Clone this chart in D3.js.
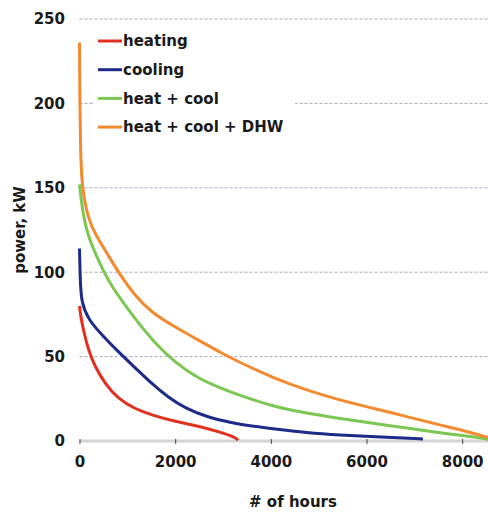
<html>
<head>
<script src="https://d3js.org/d3.v7.min.js"></script>
<style>
  body { margin: 0; background: #fff; }
  text { font-family: "DejaVu Sans", sans-serif; font-weight: bold; fill: #1a1a1a; }
</style>
</head>
<body>
<script>
// load duration curves, [hours, kW]
const heating = [[0,80],[0,80],[25,74],[79,66],[184,54],[324,44],[533,34],[805,25],[1160,19],[1509,15.4],[1996,11.6],[2554,8.4],[2894,5.6],[3250,2.4],[3312,0.5],[3312,0.5]];
const cooling = [[0,114],[0,114],[15,95],[40,82],[184,72],[464,63],[805,53],[1160,43.5],[1509,34],[1850,26],[2205,19.5],[2686,14],[3187,10.8],[3600,8.8],[4044,7.2],[4754,4.9],[5444,3.5],[6134,2.5],[7180,1.2],[7180,1.2]];
const heatCool = [[0,152],[0,152],[31,144],[79,134],[170,122],[393,107],[602,95],[882,83],[1229,70],[1578,58],[1996,46.5],[2476,37],[2978,31],[3354,27],[4044,20.5],[4754,16.4],[5444,13.3],[6134,10.5],[6844,7.7],[7534,4.8],[8224,2.5],[8600,0.8],[8600,0.8]];
const heatCoolDhw = [[0,236],[0,236],[8,200],[22,172],[50,150],[184,131],[359,121],[602,110],[811,100],[1160,86],[1509,76],[1996,67.5],[2476,60],[2972,52],[3354,46.5],[4044,37.5],[4754,30],[5444,24.2],[6134,19.5],[6844,14.4],[7534,9.5],[8224,4.8],[8600,1.5],[8600,1.5]];

const seriesNames = ["heating", "cooling", "heat + cool", "heat + cool + DHW"];
const seriesColors = ["#e2301f", "#1d2a88", "#7cc653", "#f38a2f"];
const seriesData = [heating, cooling, heatCool, heatCoolDhw];

const xTicks = [0, 2000, 4000, 6000, 8000];
const yTicks = [0, 50, 100, 150, 200, 250];

const width = 488, height = 513;

const svg = d3.select("body").append("svg")
    .attr("width", width)
    .attr("height", height);

const x = d3.scaleLinear().domain([0, 8760]).range([79.5, 498.5]);
const y = d3.scaleLinear().domain([0, 250]).range([441, 19]);

// grid
svg.append("g")
    .selectAll("line")
    .data(yTicks.filter(d => d > 0))
    .enter()
    .append("line")
    .attr("x1", x(0))
    .attr("x2", width)
    .attr("y1", d => y(d))
    .attr("y2", d => y(d))
    .attr("stroke", "#a3abbd")
    .attr("stroke-width", 1)
    .attr("stroke-dasharray", "3,2");

// x axis
svg.append("line")
    .attr("x1", x(0))
    .attr("x2", width)
    .attr("y1", y(0))
    .attr("y2", y(0))
    .attr("stroke", "#d4d4d4")
    .attr("stroke-width", 3);

const xAxis = svg.append("g")
    .attr("transform", `translate(0,${y(0) - 2})`)
    .call(d3.axisBottom(x).tickValues(xTicks).tickSize(5).tickPadding(12).tickFormat(d3.format("d")));
xAxis.select(".domain").remove();
xAxis.selectAll(".tick line").attr("stroke", "#444");
xAxis.selectAll("text").style("font-size", "15px").style("font-family", "DejaVu Sans").style("font-weight", "bold").attr("fill", "#1a1a1a");

const yAxis = svg.append("g")
    .attr("transform", "translate(79,0)")
    .call(d3.axisLeft(y).tickValues(yTicks).tickSize(0).tickPadding(14));
yAxis.select(".domain").remove();
yAxis.selectAll("text").style("font-size", "15px").style("font-family", "DejaVu Sans").style("font-weight", "bold").attr("fill", "#1a1a1a");

// curves
const line = d3.line()
    .x(d => x(d[0]))
    .y(d => y(d[1]))
    .curve(d3.curveBasis);

svg.append("g")
    .selectAll("path")
    .data(seriesData)
    .enter()
    .append("path")
    .attr("d", line)
    .attr("fill", "none")
    .attr("stroke", (d, i) => seriesColors[i])
    .attr("stroke-width", 3)
    .attr("stroke-linejoin", "round");

// legend
const legend = svg.append("g");
legend.append("rect")
    .attr("x", 95)
    .attr("y", 28)
    .attr("width", 200)
    .attr("height", 114)
    .attr("fill", "#fff");
const rows = legend.selectAll("g")
    .data(seriesNames)
    .enter()
    .append("g")
    .attr("transform", (d, i) => `translate(98,${41 + i * 28.7})`);
rows.append("line")
    .attr("x1", 0)
    .attr("x2", 24)
    .attr("stroke", (d, i) => seriesColors[i])
    .attr("stroke-width", 3);
rows.append("text")
    .attr("x", 25)
    .attr("dy", "0.35em")
    .style("font-size", "15px")
    .text(d => d);

// axis titles
svg.append("text")
    .attr("x", 293)
    .attr("y", 507)
    .attr("text-anchor", "middle")
    .style("font-size", "15px")
    .text("# of hours");

svg.append("text")
    .attr("transform", "translate(25,230) rotate(-90)")
    .attr("text-anchor", "middle")
    .style("font-size", "15px")
    .text("power, kW");
</script>
</body>
</html>
